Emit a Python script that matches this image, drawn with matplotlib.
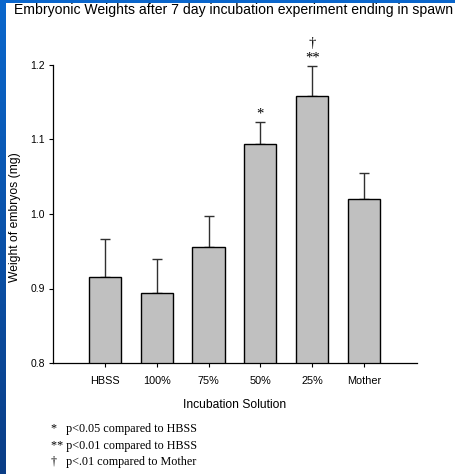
import numpy as np
import matplotlib
matplotlib.use("Agg")
import matplotlib.pyplot as plt

# data
groups = ["HBSS", "100%", "75%", "50%", "25%", "Mother"]
weights = [0.915, 0.894, 0.956, 1.094, 1.159, 1.020]
err_up = [0.052, 0.046, 0.041, 0.029, 0.039, 0.035]
marks = ["", "", "", "*", "**", ""]
marks2 = ["", "", "", "", "\u2020", ""]
notes = ["*   p<0.05 compared to HBSS",
         "** p<0.01 compared to HBSS",
         "\u2020   p<.01 compared to Mother"]

plt.rcParams['font.family'] = ['Liberation Sans', 'DejaVu Sans']

fig = plt.figure(figsize=(4.55, 4.74), dpi=100)

# slide frame: blue strip on the left and a thin one on top
strip = fig.add_axes([0, 0, 6 / 455, 1])
grad = np.linspace(0, 1, 256).reshape(-1, 1)
cmap = matplotlib.colors.LinearSegmentedColormap.from_list("slide", ["#0a67cc", "#0a3d86"])
strip.imshow(grad, aspect="auto", cmap=cmap)
strip.axis("off")
top = fig.add_axes([0, 1 - 3 / 474, 1, 3 / 474])
top.set_facecolor("#0a66cc")
top.set_xticks([])
top.set_yticks([])
for s in top.spines.values():
    s.set_visible(False)

ax = fig.add_axes([53 / 455, 1 - 363 / 474, 364 / 455, 298 / 474])
x = np.arange(len(groups))
ax.bar(x, weights, width=0.62, bottom=0, color="#c0c0c0", edgecolor="black", linewidth=1.0, zorder=2)
ax.errorbar(x, weights, yerr=[np.zeros(len(err_up)), err_up], fmt="none",
            ecolor="#303030", elinewidth=1.0, capsize=3.5, capthick=1.0, zorder=1)

for xi, w, e, m in zip(x, weights, err_up, marks):
    if m:
        ax.text(xi, w + e + 0.002, m, ha="center", va="bottom", fontsize=10.5,
                family=["Liberation Serif"], clip_on=False)
for xi, w, e, m in zip(x, weights, err_up, marks2):
    if m:
        ax.text(xi, w + e + 0.022, m, ha="center", va="bottom", fontsize=10.5,
                family=["Liberation Serif"], clip_on=False)

ax.set_xlim(-1, 6.02)
ax.set_ylim(0.8, 1.2)
ax.set_yticks([0.8, 0.9, 1.0, 1.1, 1.2])
ax.set_yticklabels(["0.8", "0.9", "1.0", "1.1", "1.2"], fontsize=7.5)
ax.set_xticks(x)
ax.set_xticklabels(groups, fontsize=7.8)
ax.tick_params(axis="both", direction="out", length=3, width=0.8, pad=3)
ax.tick_params(axis="x", pad=6)
ax.spines["top"].set_visible(False)
ax.spines["right"].set_visible(False)
ax.spines["left"].set_linewidth(0.9)
ax.spines["bottom"].set_linewidth(0.9)
ax.set_xlabel("Incubation Solution", fontsize=8.7, labelpad=10)
fig.text(15 / 455, 1 - 217 / 474, "Weight of embryos (mg)", rotation=90,
         ha="center", va="center", fontsize=8.7)

fig.text(14 / 455, 1 - 10 / 474, "Embryonic Weights after 7 day incubation experiment ending in spawn",
         ha="left", va="center", fontsize=10.1)

for i, n in enumerate(notes):
    fig.text(51 / 455, 1 - (429 + 16.5 * i) / 474, n, ha="left", va="center",
             fontsize=8.7, family=["Liberation Serif", "DejaVu Serif"])

fig.savefig("out.png", dpi=100)
